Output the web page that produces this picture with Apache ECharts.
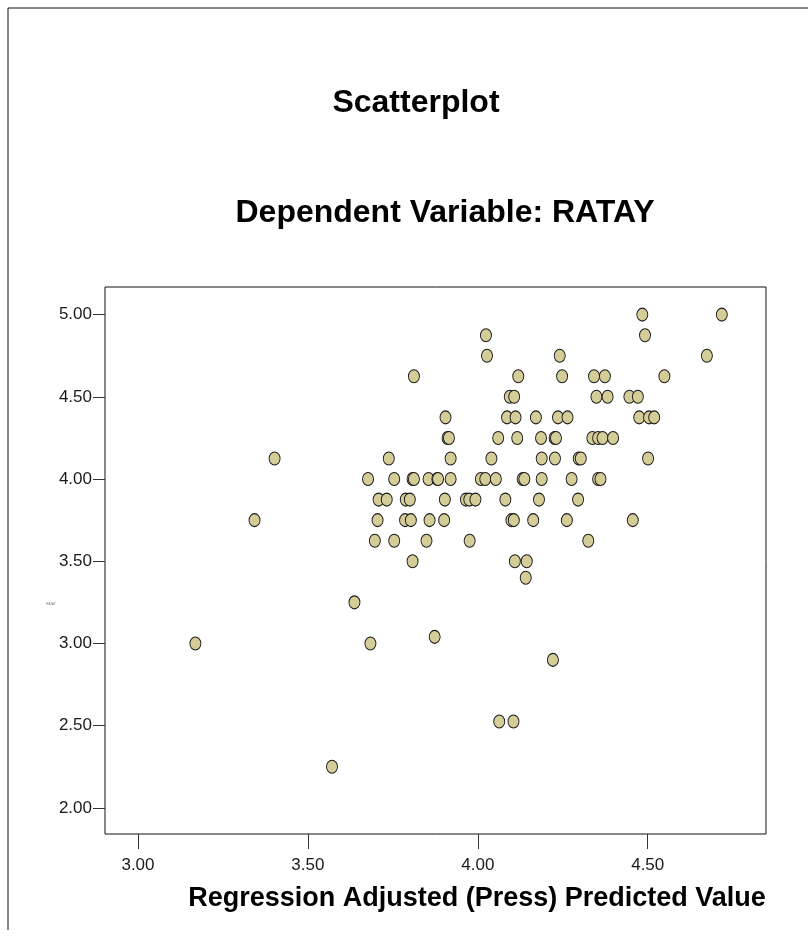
<!DOCTYPE html>
<html>
<head>
<meta charset="utf-8">
<script src="https://cdn.jsdelivr.net/npm/echarts@6/dist/echarts.min.js"></script>
<style>
  html, body { margin: 0; padding: 0; background: #fff; }
  #chart { width: 808px; height: 942px; }
</style>
</head>
<body>
<div id="chart"></div>
<script>
// x: adjusted (press) predicted value, y: RATAY
const predicted = [
  3.169, 3.343, 3.402, 3.571, 3.637, 3.684, 3.873, 4.221, 4.063, 4.105, 4.141,
  3.808, 4.109, 4.144,
  3.697, 3.754, 3.849, 3.976, 4.325,
  3.705, 3.786, 3.803, 3.858, 3.901, 4.099, 4.106, 4.163, 4.262, 4.456,
  3.708, 3.732, 3.788, 3.800, 3.903, 3.965, 3.975, 3.993, 4.081, 4.180, 4.295,
  3.677, 3.754, 3.808, 3.812, 3.855, 3.881, 3.883, 3.920, 4.009, 4.022, 4.053, 4.132, 4.137, 4.188, 4.276, 4.354, 4.361,
  3.738, 3.920, 4.040, 4.188, 4.227, 4.297, 4.303, 4.501,
  3.911, 3.915, 4.060, 4.116, 4.186, 4.226, 4.230, 4.337, 4.354, 4.367, 4.398,
  3.905, 4.086, 4.111, 4.171, 4.236, 4.264, 4.475, 4.504, 4.519,
  4.094, 4.107, 4.349, 4.382, 4.446, 4.471,
  3.812, 4.119, 4.248, 4.342, 4.374, 4.549,
  4.027, 4.241, 4.674,
  4.024, 4.492,
  4.484, 4.718
];
const ratay = [
  3.000, 3.750, 4.125, 2.250, 3.250, 3.000, 3.040, 2.900, 2.525, 2.525, 3.400,
  3.500, 3.500, 3.500,
  3.625, 3.625, 3.625, 3.625, 3.625,
  3.750, 3.750, 3.750, 3.750, 3.750, 3.750, 3.750, 3.750, 3.750, 3.750,
  3.875, 3.875, 3.875, 3.875, 3.875, 3.875, 3.875, 3.875, 3.875, 3.875, 3.875,
  4.000, 4.000, 4.000, 4.000, 4.000, 4.000, 4.000, 4.000, 4.000, 4.000, 4.000, 4.000, 4.000, 4.000, 4.000, 4.000, 4.000,
  4.125, 4.125, 4.125, 4.125, 4.125, 4.125, 4.125, 4.125,
  4.250, 4.250, 4.250, 4.250, 4.250, 4.250, 4.250, 4.250, 4.250, 4.250, 4.250,
  4.375, 4.375, 4.375, 4.375, 4.375, 4.375, 4.375, 4.375, 4.375,
  4.500, 4.500, 4.500, 4.500, 4.500, 4.500,
  4.625, 4.625, 4.625, 4.625, 4.625, 4.625,
  4.750, 4.750, 4.750,
  4.875, 4.875,
  5.000, 5.000
];
const xTicks = [3.0, 3.5, 4.0, 4.5];
const yTicks = [2.0, 2.5, 3.0, 3.5, 4.0, 4.5, 5.0];

const points = predicted.map((x, i) => [x, ratay[i]]);

const myChart = echarts.init(document.getElementById("chart"));

const labelFont = {
  fontFamily: "Liberation Sans, Arial, sans-serif",
  fontSize: 17,
  color: "#1a1a1a",
};

const options = {
  animation: false,
  backgroundColor: "#fff",
  grid: {
    left: 105,
    right: 42,
    top: 287,
    bottom: 108,
    show: true,
    borderColor: "#111",
    borderWidth: 1,
    backgroundColor: "#fff",
  },
  xAxis: {
    type: "value",
    min: 2.903,
    max: 4.848,
    axisLine: { show: false },
    splitLine: { show: false },
    axisTick: {
      show: true,
      length: 15,
      customValues: xTicks,
      lineStyle: { color: "#333" },
    },
    axisLabel: {
      ...labelFont,
      margin: 23,
      customValues: xTicks,
      formatter: (v) => v.toFixed(2),
    },
  },
  yAxis: {
    type: "value",
    min: 1.841,
    max: 5.168,
    axisLine: { show: false },
    splitLine: { show: false },
    axisTick: {
      show: true,
      length: 12,
      customValues: yTicks,
      lineStyle: { color: "#333" },
    },
    axisLabel: {
      ...labelFont,
      margin: 13,
      customValues: yTicks,
      formatter: (v) => v.toFixed(2),
    },
  },
  graphic: [
    // outer frame (top + left)
    { type: "line", shape: { x1: 8, y1: 8, x2: 808, y2: 8 }, style: { stroke: "#111", lineWidth: 1 } },
    { type: "line", shape: { x1: 8, y1: 8, x2: 8, y2: 930 }, style: { stroke: "#111", lineWidth: 1 } },
    {
      type: "text",
      x: 416,
      y: 103,
      style: {
        text: "Scatterplot",
        font: "bold 32px 'Liberation Sans', Arial, sans-serif",
        fill: "#000",
        textAlign: "center",
        textVerticalAlign: "middle",
      },
    },
    {
      type: "text",
      x: 445,
      y: 213,
      style: {
        text: "Dependent Variable: RATAY",
        font: "bold 32px 'Liberation Sans', Arial, sans-serif",
        fill: "#000",
        textAlign: "center",
        textVerticalAlign: "middle",
      },
    },
    {
      type: "text",
      x: 477,
      y: 899,
      style: {
        text: "Regression Adjusted (Press) Predicted Value",
        font: "bold 27px 'Liberation Sans', Arial, sans-serif",
        fill: "#000",
        textAlign: "center",
        textVerticalAlign: "middle",
      },
    },
    {
      // y axis title is printed tiny in the source
      type: "text",
      x: 51,
      y: 604,
      style: {
        text: "RATAY",
        font: "3px 'Liberation Sans', Arial, sans-serif",
        fill: "#777",
        textAlign: "center",
        textVerticalAlign: "middle",
      },
    },
  ],
  series: [
    {
      type: "scatter",
      data: points,
      symbol: "circle",
      symbolSize: [11, 13],
      itemStyle: {
        color: "#d4cd98",
        borderColor: "#1a1a1a",
        borderWidth: 1,
        opacity: 1,
      },
    },
  ],
};
myChart.setOption(options);
</script>
</body>
</html>
